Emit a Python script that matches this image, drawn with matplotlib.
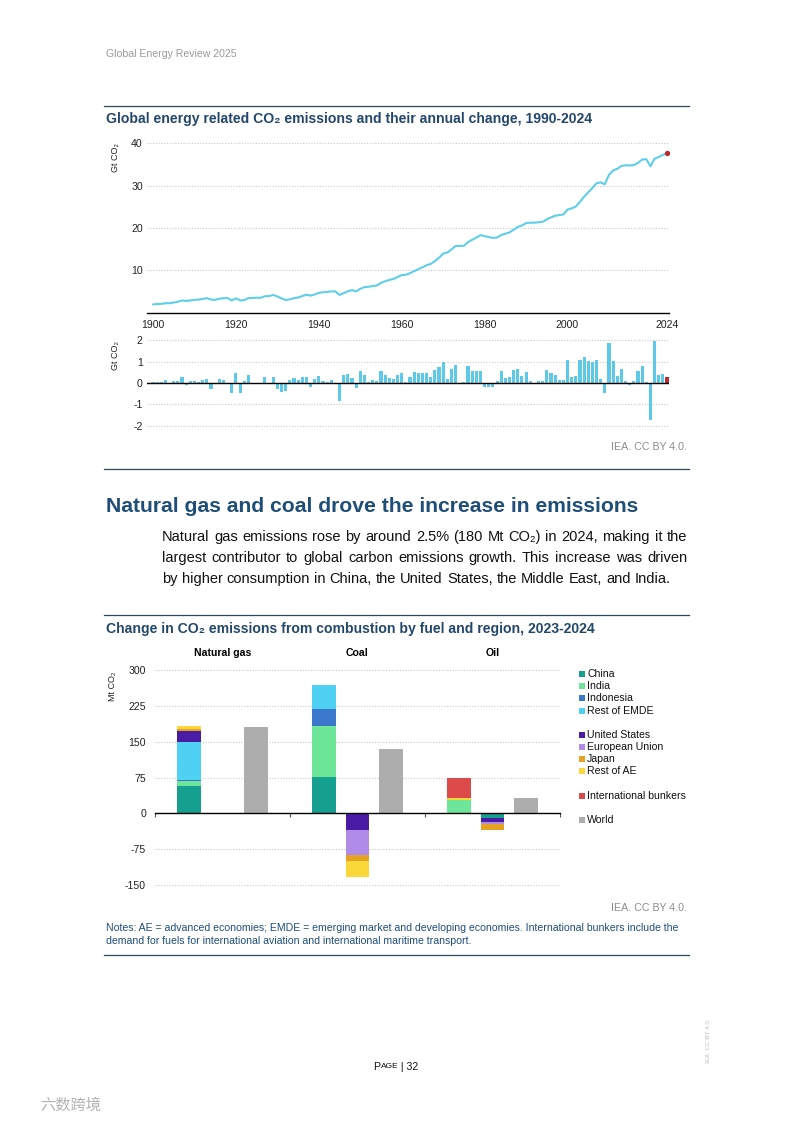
import matplotlib
matplotlib.use("Agg")
import matplotlib.pyplot as plt
from matplotlib.lines import Line2D
from matplotlib.patches import Rectangle

# ---------------- data ----------------
years = list(range(1900, 2025))
emissions = [
    1.9, 2.0, 2.05, 2.2, 2.2, 2.35, 2.55, 2.85, 2.75, 2.85,
    3.0, 3.05, 3.2, 3.4, 3.05, 3.0, 3.25, 3.4, 3.4, 2.85,
    3.35, 2.85, 2.95, 3.4, 3.45, 3.5, 3.5, 3.85, 3.9, 4.15,
    3.8, 3.35, 2.95, 3.1, 3.4, 3.55, 3.9, 4.2, 4.0, 4.25,
    4.65, 4.8, 4.85, 5.0, 5.0, 4.15, 4.6, 5.0, 5.3, 5.0,
    5.6, 6.0, 6.1, 6.25, 6.4, 7.0, 7.4, 7.7, 7.95, 8.4,
    8.85, 8.95, 9.3, 9.8, 10.25, 10.7, 11.2, 11.5, 12.15, 12.95,
    13.95, 14.2, 14.9, 15.75, 15.75, 15.8, 16.65, 17.2, 17.75, 18.3,
    18.1, 17.85, 17.65, 17.75, 18.35, 18.65, 18.95, 19.6, 20.25, 20.6,
    21.15, 21.25, 21.25, 21.35, 21.45, 22.05, 22.5, 22.9, 23.05, 23.2,
    24.35, 24.65, 25.05, 26.2, 27.4, 28.45, 29.45, 30.6, 30.8, 30.35,
    32.6, 33.6, 34.0, 34.7, 34.85, 34.8, 34.9, 35.4, 36.2, 36.3,
    34.6, 36.4, 36.8, 37.3, 37.7,
]
annual_change = [
    0.05, 0.05, 0.05, 0.15, 0.0, 0.1, 0.12, 0.3, -0.1, 0.1,
    0.1, 0.05, 0.15, 0.2, -0.3, -0.05, 0.2, 0.15, 0.02, -0.45,
    0.45, -0.45, 0.1, 0.4, 0.0, 0.02, -0.03, 0.3, 0.02, 0.3,
    -0.3, -0.4, -0.35, 0.15, 0.25, 0.15, 0.3, 0.3, -0.2, 0.2,
    0.35, 0.1, 0.05, 0.15, 0.0, -0.85, 0.4, 0.42, 0.25, -0.25,
    0.55, 0.4, 0.05, 0.15, 0.12, 0.55, 0.4, 0.25, 0.2, 0.4,
    0.45, 0.05, 0.3, 0.5, 0.45, 0.45, 0.45, 0.3, 0.6, 0.75,
    1.0, 0.2, 0.65, 0.85, 0.0, 0.05, 0.8, 0.55, 0.55, 0.55,
    -0.2, -0.2, -0.2, 0.08, 0.55, 0.25, 0.3, 0.6, 0.65, 0.35,
    0.5, 0.1, 0.0, 0.1, 0.1, 0.6, 0.45, 0.4, 0.15, 0.15,
    1.1, 0.3, 0.35, 1.1, 1.2, 1.05, 1.0, 1.1, 0.2, -0.45,
    1.9, 1.05, 0.35, 0.65, 0.1, -0.08, 0.08, 0.55, 0.8, 0.03,
    -1.75, 1.95, 0.38, 0.42, 0.3,
]
year_ticks = [1900, 1920, 1940, 1960, 1980, 2000, 2024]

fuels = ["Natural gas", "Coal", "Oil"]
regions = ["China", "India", "Indonesia", "Rest of EMDE", "United States",
           "European Union", "Japan", "Rest of AE", "International bunkers"]
natural_gas_change = [57, 10, 3, 80, 22, 0, 4, 6, 0]
coal_change = [77, 106, 36, 50, -34, -53, -12, -35, 0]
oil_change = [-10, 28, 0, 0, -8, -3.5, -14.5, 4, 43]
world_change = [181, 134, 33]
mt_ticks = [-150, -75, 0, 75, 150, 225, 300]

region_colors = ["#159f8e", "#6de69a", "#3b78cc", "#4fd1f3", "#4a1ba5",
                 "#b08ce8", "#e5a321", "#fad83a", "#dd4a4a"]
world_color = "#adadad"

# ---------------- figure helpers ----------------
W, H = 793, 1121
plt.rcParams["font.family"] = ["Liberation Sans", "DejaVu Sans"]
plt.rcParams["axes.unicode_minus"] = False
fig = plt.figure(figsize=(W / 100, H / 100), dpi=100)
renderer = fig.canvas.get_renderer()

def fx(x):
    return x / W

def fy(y):
    return 1 - y / H

def rect(x0, y0, x1, y1):
    return [x0 / W, 1 - y1 / H, (x1 - x0) / W, (y1 - y0) / H]

def ftext(x, y, s, **kw):
    kw.setdefault("va", "center")
    return fig.text(fx(x), fy(y), s, **kw)

def hrule(y, x0=104, x1=689, color="#2b4a60", lw=0.9):
    fig.add_artist(Line2D([fx(x0), fx(x1)], [fy(y), fy(y)], color=color, lw=lw))

TITLE = "#23476b"
GRID = "#c9c9c9"
TICK = "#222222"

# ---------------- page text ----------------
ftext(106, 54, "Global Energy Review 2025", fontsize=7.6, color="#9a9a9a")
hrule(106)
ftext(106, 119, "Global energy related CO\u2082 emissions and their annual change, 1990-2024",
      fontsize=10.1, fontweight="bold", color=TITLE)

# ---------------- top line chart ----------------
ax1 = fig.add_axes(rect(147, 138, 669, 312.5))
ax1.plot(years, emissions, color="#5fcfe9", lw=1.5, solid_capstyle="round")
ax1.plot(years[-1:], emissions[-1:], "o", color="#c0282d", ms=2.8)
ax1.set_xlim(1898.55, 2024.48)
ax1.set_ylim(0, 41.3)
ax1.set_yticks([10, 20, 30, 40])
ax1.set_xticks(year_ticks)
ax1.grid(axis="y", color=GRID, lw=0.8, ls=(0, (1, 1.5)))
ax1.set_axisbelow(True)
for s in ["top", "right", "left"]:
    ax1.spines[s].set_visible(False)
ax1.spines["bottom"].set_color("black")
ax1.spines["bottom"].set_linewidth(1.0)
ax1.tick_params(axis="y", length=0, pad=3, labelsize=7.6, labelcolor=TICK)
ax1.tick_params(axis="x", length=0, pad=5.5, labelsize=7.6, labelcolor=TICK)
ftext(115, 158, "Gt CO\u2082", fontsize=6.5, rotation=90, ha="center", color=TICK)

# ---------------- annual change bars ----------------
ax2 = fig.add_axes(rect(147, 334, 669, 437.5))
bar_colors = ["#5cc9e8"] * (len(years) - 1) + ["#c0282d"]
ax2.bar(years, annual_change, width=0.75, color=bar_colors, zorder=2)
ax2.axhline(0, color="black", lw=1.0, zorder=3)
ax2.set_xlim(1898.55, 2024.48)
ax2.set_ylim(-2.55, 2.3)
ax2.set_yticks([-2, -1, 0, 1, 2])
ax2.set_xticks([])
ax2.grid(axis="y", color=GRID, lw=0.8, ls=(0, (1, 1.5)))
ax2.set_axisbelow(True)
for s in ax2.spines.values():
    s.set_visible(False)
ax2.tick_params(axis="y", length=0, pad=3, labelsize=7.6, labelcolor=TICK)
ftext(115, 356, "Gt CO\u2082", fontsize=6.5, rotation=90, ha="center", color=TICK)

ftext(687, 447, "IEA. CC BY 4.0.", fontsize=7.7, color="#8c8c8c", ha="right")
hrule(469)

# ---------------- heading & paragraph ----------------
ftext(106, 506, "Natural gas and coal drove the increase in emissions",
      fontsize=15.2, fontweight="bold", color="#1f4e79")

para = [
    "Natural gas emissions rose by around 2.5% (180 Mt CO\u2082) in 2024, making it the",
    "largest contributor to global carbon emissions growth. This increase was driven",
    "by higher consumption in China, the United States, the Middle East, and India.",
]
psize = 10.55
for i, line in enumerate(para):
    y = 537 + i * 21
    words = line.split(" ")
    texts = [ftext(162, y, w, fontsize=psize, color="#111111") for w in words]
    widths = [t.get_window_extent(renderer).width for t in texts]
    if i < len(para) - 1:
        gap = (687 - 162 - sum(widths)) / (len(words) - 1)
    else:
        gap = 0.278 * psize * 100 / 72
    x = 162
    for t, w in zip(texts, widths):
        t.set_x(fx(x))
        x += w + gap

hrule(615)
ftext(106, 629, "Change in CO\u2082 emissions from combustion by fuel and region, 2023-2024",
      fontsize=10.1, fontweight="bold", color=TITLE)

# ---------------- stacked bar chart ----------------
ax3 = fig.add_axes(rect(155, 663, 560, 892))
fuel_series = [natural_gas_change, coal_change, oil_change]
bw = 0.7
for i, vals in enumerate(fuel_series):
    pos_base, neg_base = 0.0, 0.0
    for r, v in enumerate(vals):
        if v > 0:
            ax3.bar(4 * i + 1, v, bottom=pos_base, width=bw, color=region_colors[r], zorder=2)
            pos_base += v
        elif v < 0:
            ax3.bar(4 * i + 2, v, bottom=neg_base, width=bw, color=region_colors[r], zorder=2)
            neg_base += v
    ax3.bar(4 * i + 3, world_change[i], width=bw, color=world_color, zorder=2)
    ax3.text(4 * i + 2, 336, fuels[i], ha="center", va="center", fontsize=7.6,
             fontweight="bold", color="black", clip_on=False)

ax3.set_xlim(0, 12)
ax3.set_ylim(-165, 315)
ax3.set_yticks(mt_ticks)
ax3.set_yticklabels([str(t) for t in mt_ticks])
ax3.set_xticks([0, 4, 8, 12])
ax3.set_xticklabels([])
for t in mt_ticks:
    if t != 0:
        ax3.axhline(t, color=GRID, lw=0.8, ls=(0, (1, 1.5)), zorder=1)
for s in ["top", "right", "left"]:
    ax3.spines[s].set_visible(False)
ax3.spines["bottom"].set_position(("data", 0))
ax3.spines["bottom"].set_color("black")
ax3.spines["bottom"].set_linewidth(1.0)
ax3.spines["bottom"].set_zorder(3)
ax3.tick_params(axis="x", direction="out", length=3, width=0.8, color="#555555")
ax3.tick_params(axis="y", length=0, pad=6.5, labelsize=7.6, labelcolor=TICK)
ftext(113, 686, "Mt CO\u2082", fontsize=6.5, rotation=90, ha="center", color=TICK)

# legend
legend_rows = ["China", "India", "Indonesia", "Rest of EMDE", None,
               "United States", "European Union", "Japan", "Rest of AE", None,
               "International bunkers", None, "World"]
for k, name in enumerate(legend_rows):
    if name is None:
        continue
    y = 674 + k * 12.17
    col = world_color if name == "World" else region_colors[regions.index(name)]
    fig.add_artist(Rectangle((fx(578.5), fy(y + 3)), 6 / W, 6 / H,
                             facecolor=col, edgecolor="none"))
    ftext(587, y, name, fontsize=7.6, color="#111111")

ftext(687, 908, "IEA. CC BY 4.0.", fontsize=7.7, color="#8c8c8c", ha="right")
ftext(106, 928, "Notes: AE = advanced economies; EMDE = emerging market and developing economies. "
      "International bunkers include the", fontsize=7.55, color="#1f4e79")
ftext(106, 941, "demand for fuels for international aviation and international maritime transport.",
      fontsize=7.55, color="#1f4e79")
hrule(955)

# ---------------- footer ----------------
pieces = [("P", 7.6), ("AGE", 6.0), (" | 32", 7.6)]
ptexts = [ftext(0, 1067, s, fontsize=sz, color="#111111") for s, sz in pieces]
pw = [t.get_window_extent(renderer).width for t in ptexts]
x = 396 - sum(pw) / 2
for t, w in zip(ptexts, pw):
    t.set_x(fx(x))
    x += w
ftext(709, 1041, "IEA. CC BY 4.0.", fontsize=4.5, rotation=90, ha="center", color="#bdbdbd")
ftext(40, 1105, "六数跨境", fontsize=11, color="#b3b3b3",
      family=["Noto Sans CJK SC", "DejaVu Sans"])

fig.savefig("out.png", dpi=100)
